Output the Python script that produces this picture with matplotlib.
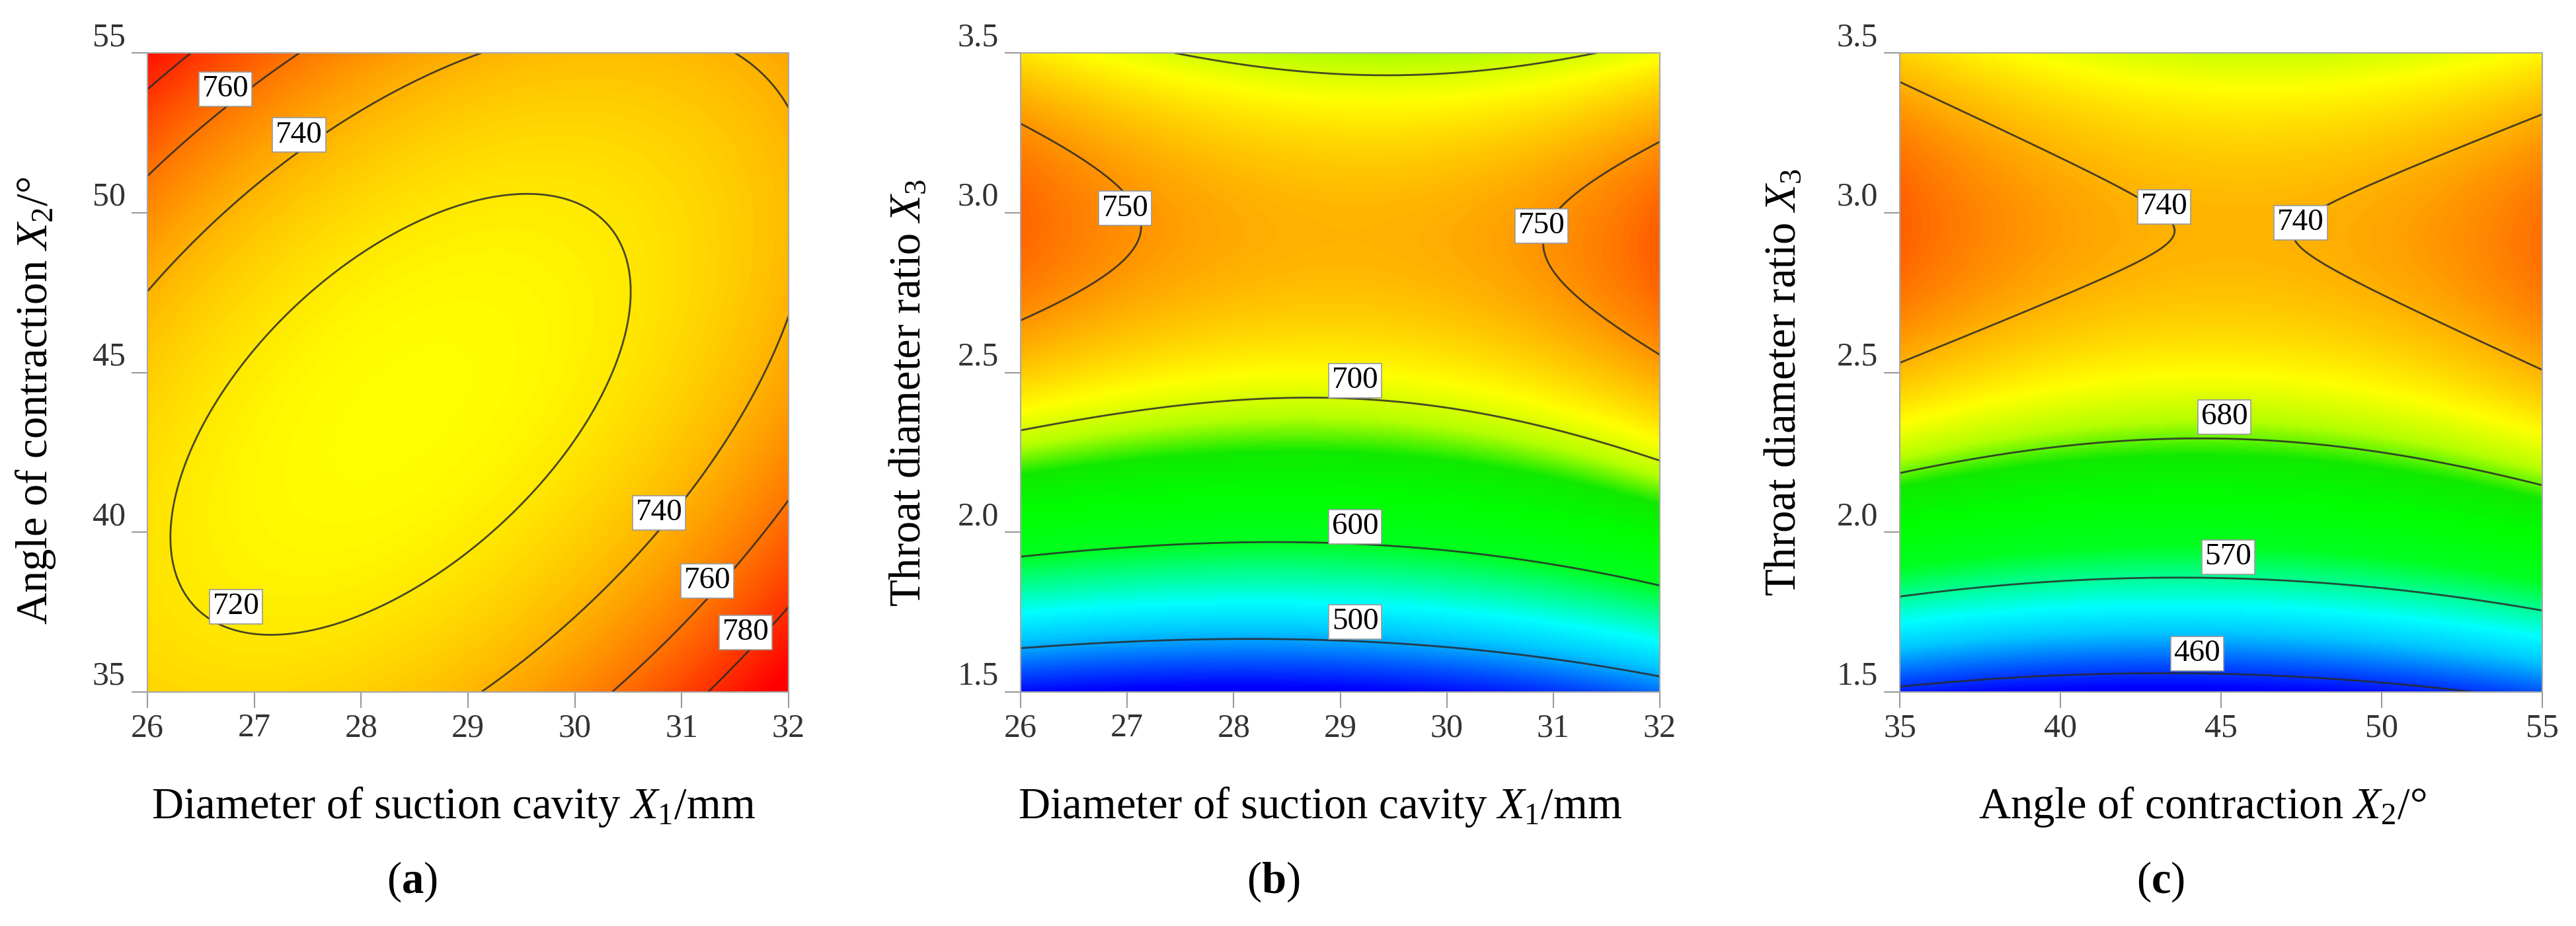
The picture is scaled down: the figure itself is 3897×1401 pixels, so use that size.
import numpy as np
import matplotlib.pyplot as plt
from matplotlib.colors import LinearSegmentedColormap, Normalize

plt.rcParams['font.family'] = ['Liberation Serif', 'DejaVu Serif']
plt.rcParams['mathtext.fontset'] = 'custom'
plt.rcParams['mathtext.rm'] = 'Liberation Serif'
plt.rcParams['mathtext.it'] = 'Liberation Serif:italic'
plt.rcParams['mathtext.bf'] = 'Liberation Serif:bold'

# --- points read along the contour lines of each panel ---
# (a) X1 vs X2
a_x1 = [29.56, 28.07, 26.87, 26.40, 26.27, 27.24, 28.95, 30.16, 30.38, 30.52,
        26.00, 26.69, 27.40, 29.13,
        31.50, 31.81, 32.00,
        29.14, 29.77, 31.06, 31.80, 32.00,
        26.00, 26.73, 27.43,
        30.37, 31.22, 32.00,
        26.00, 26.40,
        31.25, 31.60, 32.00,
        28.40]
a_x2 = [50.50, 49.16, 45.04, 43.50, 40.05, 36.85, 39.10, 43.50, 45.25, 47.27,
        47.45, 49.85, 51.85, 55.00,
        55.00, 54.20, 53.20,
        35.00, 36.80, 41.19, 45.25, 46.70,
        51.12, 53.29, 55.00,
        35.00, 37.86, 40.96,
        53.87, 55.00,
        35.00, 36.25, 37.66,
        43.60]
a_val = [720] * 10 + [740] * 12 + [760] * 6 + [780] * 5 + [712]

# (b) X1 vs X3
b_x1 = [27.40, 29.50, 31.32,
        26.00, 26.55, 26.99, 26.55, 26.00,
        32.00, 31.43, 30.90, 31.43, 32.00,
        26.00, 28.50, 30.14, 32.00,
        26.00, 28.09, 30.14, 32.00,
        26.00, 28.35, 30.14, 32.00,
        29.00]
b_x3 = [3.500, 3.433, 3.500,
        3.275, 3.191, 2.945, 2.742, 2.670,
        3.209, 3.090, 2.887, 2.655, 2.554,
        2.314, 2.420, 2.380, 2.223,
        1.920, 1.971, 1.945, 1.829,
        1.641, 1.667, 1.641, 1.551,
        1.500]
b_val = [700] * 3 + [750] * 10 + [700] * 4 + [600] * 4 + [500] * 4 + [440]

# (c) X2 vs X3
c_x2 = [35.00, 39.60, 43.35, 39.60, 35.00,
        55.00, 51.50, 47.53, 51.50, 55.00,
        35.00, 40.00, 44.00, 50.00, 55.00,
        35.00, 44.30, 55.00,
        35.00, 44.20, 53.20,
        45.00, 45.00]
c_x3 = [3.399, 3.159, 2.943, 2.706, 2.504,
        3.303, 3.116, 2.922, 2.655, 2.490,
        2.188, 2.267, 2.303, 2.245, 2.145,
        1.799, 1.871, 1.756,
        1.519, 1.562, 1.500,
        3.500, 1.500]
c_val = [740] * 10 + [680] * 5 + [570] * 3 + [460] * 3 + [700, 442]

# contour levels and label spots
a_levels = [720, 740, 760, 780]
a_labels = [(26.73, 53.87, '760'), (27.42, 52.43, '740'), (26.83, 37.67, '720'),
            (30.79, 40.60, '740'), (31.24, 38.48, '760'), (31.60, 36.86, '780')]
b_levels = [500, 600, 700, 750]
b_labels = [(26.98, 3.013, '750'), (30.89, 2.959, '750'), (29.14, 2.474, '700'),
            (29.14, 2.017, '600'), (29.14, 1.720, '500')]
c_levels = [460, 570, 680, 740]
c_labels = [(43.23, 3.019, '740'), (47.48, 2.968, '740'), (45.10, 2.360, '680'),
            (45.22, 1.922, '570'), (44.25, 1.620, '460')]

# colour scale (value -> colour)
cmap_values = [440, 470, 510, 540, 575, 600, 640, 670, 690, 712, 740, 760, 780, 795]
cmap_colors = ['#0000ff', '#0050ff', '#00c8ff', '#00ffff', '#00ff80', '#00ff20',
               '#00ff00', '#10ea00', '#b4ff00', '#ffff00', '#ffb400', '#ff7800',
               '#ff3200', '#ff0000']


def fit_surface(x, y, z, xlim, ylim, deg=3):
    x = np.asarray(x, float)
    y = np.asarray(y, float)
    z = np.asarray(z, float)
    cx, hx = (xlim[0] + xlim[1]) / 2, (xlim[1] - xlim[0]) / 2
    cy, hy = (ylim[0] + ylim[1]) / 2, (ylim[1] - ylim[0]) / 2
    terms = [(i, j) for i in range(deg + 1) for j in range(deg + 1 - i)]
    u, v = (x - cx) / hx, (y - cy) / hy
    A = np.column_stack([u ** i * v ** j for i, j in terms])
    coef = np.linalg.lstsq(A, z, rcond=None)[0]

    def f(X, Y):
        U, V = (X - cx) / hx, (Y - cy) / hy
        return sum(c * U ** i * V ** j for c, (i, j) in zip(coef, terms))
    return f


lo, hi = cmap_values[0], cmap_values[-1]
cmap = LinearSegmentedColormap.from_list(
    'de', [((v - lo) / (hi - lo), c) for v, c in zip(cmap_values, cmap_colors)])
norm = Normalize(lo, hi)

fig = plt.figure(figsize=(38.98, 14.01), dpi=100)
H = 1401.0
W = 3898.0
# left edge, width, xlabel x, ylabel x, ylabel y (axes fractions), letter x (px)
layout = [(223, 970, 0.477, -0.174, 0.456, 623),
          (1544, 967, 0.468, -0.175, 0.468, 1926),
          (2874, 972, 0.471, -0.180, 0.484, 3269)]

panels = [
    (a_x1, a_x2, a_val, (26, 32), (35, 55), a_levels, a_labels,
     r'Diameter of suction cavity $X_1$/mm', r'Angle of contraction $X_2$/°',
     np.arange(26, 33, 1), np.arange(35, 56, 5), '{:.0f}', 'a'),
    (b_x1, b_x3, b_val, (26, 32), (1.5, 3.5), b_levels, b_labels,
     r'Diameter of suction cavity $X_1$/mm', r'Throat diameter ratio $X_3$',
     np.arange(26, 33, 1), np.arange(1.5, 3.51, 0.5), '{:.1f}', 'b'),
    (c_x2, c_x3, c_val, (35, 55), (1.5, 3.5), c_levels, c_labels,
     r'Angle of contraction $X_2$/°', r'Throat diameter ratio $X_3$',
     np.arange(35, 56, 5), np.arange(1.5, 3.51, 0.5), '{:.1f}', 'c'),
]

for (left, width, xlx, ylx, yly, letter_x), p in zip(layout, panels):
    (px, py, pv, xlim, ylim, levels, labels, xlabel, ylabel,
     xticks, yticks, yfmt, letter) = p
    ax = fig.add_axes([left / W, 354 / H, width / W, 967 / H])

    f = fit_surface(px, py, pv, xlim, ylim)
    gx = np.linspace(xlim[0], xlim[1], 500)
    gy = np.linspace(ylim[0], ylim[1], 500)
    GX, GY = np.meshgrid(gx, gy)
    Z = f(GX, GY)

    ax.imshow(Z, origin='lower', extent=(xlim[0], xlim[1], ylim[0], ylim[1]),
              aspect='auto', cmap=cmap, norm=norm, interpolation='bilinear')
    ax.contour(GX, GY, Z, levels=levels, colors='#2a2a2a', linewidths=2.0, alpha=0.85)

    for lx, ly, txt in labels:
        ax.text(lx, ly, txt, ha='center', va='center', fontsize=34, zorder=5,
                bbox=dict(boxstyle='square,pad=0.1', fc='white', ec='#999999', lw=1.2))

    ax.set_xlim(*xlim)
    ax.set_ylim(*ylim)
    ax.set_xticks(xticks)
    ax.set_yticks(yticks)
    ax.set_yticklabels([yfmt.format(t) for t in yticks])
    ax.tick_params(axis='both', direction='out', length=17, width=1.5,
                   color='#9a9a9a', labelcolor='#333333', labelsize=36)
    ax.tick_params(axis='x', pad=6)
    ax.tick_params(axis='y', pad=7)
    for lbl in ax.get_yticklabels():
        lbl.set_va('bottom')
    for s in ax.spines.values():
        s.set_color('#a8a8a8')
        s.set_linewidth(1.5)

    ax.set_xlabel(xlabel, fontsize=48)
    ax.set_ylabel(ylabel, fontsize=48)
    ax.xaxis.label.set_va('center')
    ax.yaxis.label.set_va('center')
    ax.xaxis.set_label_coords(xlx, (1047 - 1221) / 967)
    ax.yaxis.set_label_coords(ylx, yly)

    fig.text(letter_x / W, 1 - 1334 / H, '(' + r'$\mathbf{' + letter + '}$' + ')',
             ha='center', va='center', fontsize=48)

fig.savefig('out.png', dpi=100)
